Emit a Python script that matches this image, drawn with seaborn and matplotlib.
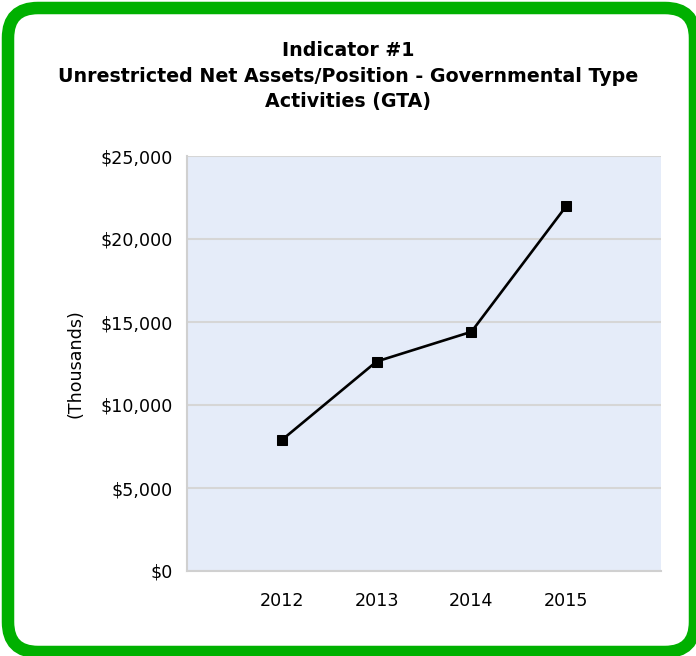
import matplotlib
matplotlib.use("Agg")
import matplotlib.pyplot as plt
import seaborn as sns
import pandas as pd
from matplotlib.patches import FancyBboxPatch

# data (thousands of dollars)
years = [2012, 2013, 2014, 2015]
values = [7890, 12620, 14410, 21980]
y_ticks = [0, 5000, 10000, 15000, 20000, 25000]
y_labels = ["$0", "$5,000", "$10,000", "$15,000", "$20,000", "$25,000"]
x_ticks = [2011, 2012, 2013, 2014, 2015, 2016]
x_labels = ["", "2012", "2013", "2014", "2015", ""]

title = "Indicator #1\nUnrestricted Net Assets/Position - Governmental Type\nActivities (GTA)"

df = pd.DataFrame({"Year": years, "Value": values})

sns.set_style("white")
plt.rcParams["font.family"] = ["DejaVu Sans"]
plt.rcParams["text.color"] = "black"

fig = plt.figure(figsize=(6.96, 6.56), dpi=100)
ax = fig.add_axes([187 / 696, 85 / 656, 474 / 696, 415 / 656])
ax.set_facecolor("#e5ecf9")

sns.lineplot(data=df, x="Year", y="Value", ax=ax, color="black", linewidth=1.9,
             marker="s", markersize=7.5, markeredgecolor="black")

ax.set_xlim(2011, 2016)
ax.set_ylim(0, 25000)
ax.set_yticks(y_ticks)
ax.set_yticklabels(y_labels)
ax.set_xticks(x_ticks)
ax.set_xticklabels(x_labels)
ax.yaxis.grid(True, color="#d6d6d6", linewidth=1.5)
ax.set_axisbelow(True)

for s in ["top", "right"]:
    ax.spines[s].set_visible(False)
for s in ["left", "bottom"]:
    ax.spines[s].set_color("#d0d0d0")
    ax.spines[s].set_linewidth(1.5)

ax.tick_params(axis="both", colors="#d0d0d0", labelcolor="black", labelsize=12.6,
               length=5, width=1.5)
ax.tick_params(axis="x", pad=10)
ax.tick_params(axis="y", pad=5)

ax.set_xlabel("")
ax.set_ylabel("(Thousands)", fontsize=12.6, labelpad=12, color="black")

fig.text(0.5, 1 - 76 / 656, title, ha="center", va="center", fontsize=13.7,
         fontweight="bold", linespacing=1.42, color="black")

frame = FancyBboxPatch((8, 4), 687, 644, boxstyle="round,pad=0,rounding_size=30",
                       transform=None, facecolor="none", edgecolor="#00b000",
                       linewidth=9)
fig.patches.append(frame)

fig.savefig("out.png", dpi=100, facecolor="white")
